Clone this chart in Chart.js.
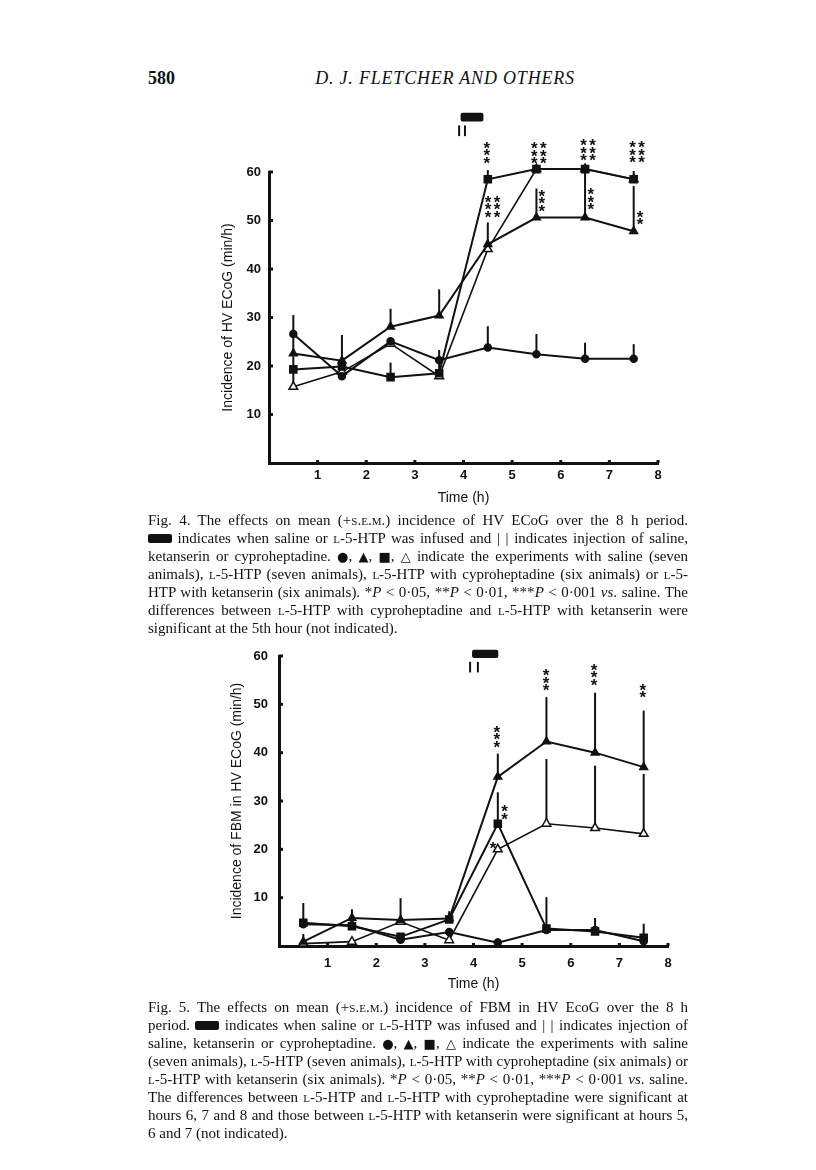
<!DOCTYPE html>
<html>
<head>
<meta charset="utf-8">
<script src="https://cdn.jsdelivr.net/npm/chart.js@4.4.1/dist/chart.umd.min.js"></script>
<style>
  body { margin: 0; background: #fff; width: 816px; height: 1170px; position: relative; overflow: hidden; }
  canvas { position: absolute; }
  .hdr { position: absolute; font-family: "Liberation Serif", serif; color: #111; }
  .cap { position: absolute; left: 148px; width: 540px; font-family: "Liberation Serif", serif; font-size: 15px; line-height: 18px; color: #111; }
  .ln { white-space: nowrap; height: 18px; }
  .ln span.t { display: inline-block; }
  .sc { font-variant: small-caps; }
  .blk { display: inline-block; width: 24px; height: 9px; background: #111; border-radius: 2px; vertical-align: 0px; }
  .sym { font-family: "DejaVu Sans", sans-serif; font-size: 13px; }
</style>
</head>
<body>
<div class="hdr" style="left:148px; top:68px; font-size:18px; font-weight:bold;">580</div>
<div class="hdr" style="left:300px; top:68px; width:290px; text-align:center; font-size:18px; font-style:italic; letter-spacing:0.8px;">D. J. FLETCHER AND OTHERS</div>

<canvas id="fig4" width="540" height="420" style="left:150px; top:95px;"></canvas>

<div class="cap" id="cap4" style="top:511px;">
  <div class="ln"><span class="t">Fig. 4. The effects on mean (+<span class="sc">s.e.m.</span>) incidence of HV ECoG over the 8 h period.</span></div>
  <div class="ln"><span class="t"><span class="blk"></span> indicates when saline or <span class="sc">l</span>-5-HTP was infused and | | indicates injection of saline,</span></div>
  <div class="ln"><span class="t">ketanserin or cyproheptadine. <span class="sym">●</span>, <span class="sym">▲</span>, <span class="sym">■</span>, <span class="sym">△</span> indicate the experiments with saline (seven</span></div>
  <div class="ln"><span class="t">animals), <span class="sc">l</span>-5-HTP (seven animals), <span class="sc">l</span>-5-HTP with cyproheptadine (six animals) or <span class="sc">l</span>-5-</span></div>
  <div class="ln"><span class="t">HTP with ketanserin (six animals). *<i>P</i> &lt; 0·05, **<i>P</i> &lt; 0·01, ***<i>P</i> &lt; 0·001 <i>vs</i>. saline. The</span></div>
  <div class="ln"><span class="t">differences between <span class="sc">l</span>-5-HTP with cyproheptadine and <span class="sc">l</span>-5-HTP with ketanserin were</span></div>
  <div class="ln last"><span class="t">significant at the 5th hour (not indicated).</span></div>
</div>

<canvas id="fig5" width="540" height="400" style="left:150px; top:600px;"></canvas>

<div class="cap" id="cap5" style="top:998px;">
  <div class="ln"><span class="t">Fig. 5. The effects on mean (+<span class="sc">s.e.m.</span>) incidence of FBM in HV EcoG over the 8 h</span></div>
  <div class="ln"><span class="t">period. <span class="blk"></span> indicates when saline or <span class="sc">l</span>-5-HTP was infused and | | indicates injection of</span></div>
  <div class="ln"><span class="t">saline, ketanserin or cyproheptadine. <span class="sym">●</span>, <span class="sym">▲</span>, <span class="sym">■</span>, <span class="sym">△</span> indicate the experiments with saline</span></div>
  <div class="ln"><span class="t">(seven animals), <span class="sc">l</span>-5-HTP (seven animals), <span class="sc">l</span>-5-HTP with cyproheptadine (six animals) or</span></div>
  <div class="ln"><span class="t"><span class="sc">l</span>-5-HTP with ketanserin (six animals). *<i>P</i> &lt; 0·05, **<i>P</i> &lt; 0·01, ***<i>P</i> &lt; 0·001 <i>vs</i>. saline.</span></div>
  <div class="ln"><span class="t">The differences between <span class="sc">l</span>-5-HTP and <span class="sc">l</span>-5-HTP with cyproheptadine were significant at</span></div>
  <div class="ln"><span class="t">hours 6, 7 and 8 and those between <span class="sc">l</span>-5-HTP with ketanserin were significant at hours 5,</span></div>
  <div class="ln last"><span class="t">6 and 7 (not indicated).</span></div>
</div>

<script>
// time points (h) and axis ticks
const hours = [0.5, 1.5, 2.5, 3.5, 4.5, 5.5, 6.5, 7.5];
const xTicks = [1, 2, 3, 4, 5, 6, 7, 8];
const yTicks = [10, 20, 30, 40, 50, 60];

// Fig 4 - HV ECoG (min/h)
const hvSaline = [26.6, 17.9, 25.1, 21.2, 23.8, 22.4, 21.5, 21.5];
const hvHtp    = [22.6, 21.1, 28.1, 30.4, 45.1, 50.6, 50.6, 47.8];
const hvCypro  = [19.3, 19.9, 17.7, 18.5, 58.5, 60.6, 60.6, 58.5];
const hvKet    = [15.7, 18.8, 24.6, 17.9, 44.1, 60.6, 60.6, 58.5];
// upper end of the +SEM bars (null = no bar drawn)
const hvSalineSem = [30.5, null, null, 23.3, 28.2, 26.6, 24.8, 24.5];
const hvHtpSem    = [26.0, 26.4, 31.8, 35.8, 49.6, 56.6, 60.6, 57.1];
const hvCyproSem  = [null, null, 20.7, 21.0, 60.4, null, null, 60.2];
const hvKetSem    = [22.0, null, null, null, null, null, null, null];

// Fig 5 - FBM in HV ECoG (min/h)
const fbmSaline = [4.5, 4.3, 1.3, 2.9, 0.7, 3.3, 3.3, 1.0];
const fbmHtp    = [0.9, 5.8, 5.4, 5.7, 35.0, 42.3, 40.0, 37.0];
const fbmCypro  = [4.8, 4.1, 1.9, 5.5, 25.3, 3.6, 3.0, 1.7];
const fbmKet    = [0.5, 0.9, 5.0, 1.2, 20.0, 25.3, 24.4, 23.2];
const fbmSalineSem = [null, null, null, 3.6, 1.6, null, null, null];
const fbmHtpSem    = [2.5, 7.6, 9.9, 7.2, 39.8, 51.5, 52.4, 48.7];
const fbmCyproSem  = [8.9, null, null, null, 31.8, 10.1, 5.8, 4.6];
const fbmKetSem    = [null, null, null, null, null, 38.7, 37.3, 35.6];

// significance asterisks: [x, y, rows, cols]
const hvStars = [[4.48, 64.0, 3, 1], [5.55, 63.9, 3, 2], [6.56, 64.5, 3, 2], [7.57, 64.1, 3, 2],
                 [4.6, 52.8, 3, 2], [5.61, 54.1, 3, 1], [6.62, 54.4, 3, 1], [7.63, 50.5, 2, 1]];
const fbmStars = [[4.48, 43.3, 3, 1], [5.49, 55.0, 3, 1], [6.48, 56.1, 3, 1], [7.48, 52.8, 2, 1],
                  [4.64, 27.6, 2, 1], [4.40, 20.7, 1, 1]];

// infusion bar [x0, x1, yTop, yBottom] and injection marks [x, x, yTop, yBottom]
const hvInfusion = [3.94, 4.41, 72.2, 70.4];
const hvInjection = [3.91, 4.03, 69.6, 67.4];
const fbmInfusion = [3.97, 4.51, 61.3, 59.6];
const fbmInjection = [3.93, 4.09, 58.8, 56.6];

const pts = vals => vals.map((v, i) => ({x: hours[i], y: v}));

const marks = {
  id: 'marks',
  beforeDatasetsDraw(chart, args, opts) {
    const {ctx, scales: {x, y}} = chart;
    ctx.save();
    ctx.strokeStyle = '#111';
    ctx.lineWidth = 2;
    opts.errors.forEach(([means, tops]) => {
      tops.forEach((top, i) => {
        if (top == null) return;
        const px = x.getPixelForValue(hours[i]);
        ctx.beginPath();
        ctx.moveTo(px, y.getPixelForValue(means[i]));
        ctx.lineTo(px, y.getPixelForValue(top));
        ctx.stroke();
      });
    });
    // small inward tick marks
    ctx.lineWidth = 3;
    const x0 = x.getPixelForValue(0), y0 = y.getPixelForValue(0);
    yTicks.forEach(v => {
      const py = y.getPixelForValue(v);
      ctx.beginPath(); ctx.moveTo(x0, py); ctx.lineTo(x0 + 4, py); ctx.stroke();
    });
    xTicks.forEach(v => {
      const px = x.getPixelForValue(v);
      ctx.beginPath(); ctx.moveTo(px, y0); ctx.lineTo(px, y0 - 3); ctx.stroke();
    });
    ctx.restore();
  },
  afterDatasetsDraw(chart, args, opts) {
    const {ctx, scales: {x, y}} = chart;
    ctx.save();
    ctx.fillStyle = '#111';
    ctx.strokeStyle = '#111';
    // infusion bar
    const [a0, a1, t, b] = opts.infusion;
    const rx = x.getPixelForValue(a0), rw = x.getPixelForValue(a1) - rx;
    const ry = y.getPixelForValue(t), rh = y.getPixelForValue(b) - ry;
    ctx.beginPath();
    ctx.roundRect(rx, ry, rw, rh, 2);
    ctx.fill();
    // injection marks
    ctx.lineWidth = 2;
    const [i0, i1, it, ib] = opts.injection;
    [i0, i1].forEach(v => {
      const px = x.getPixelForValue(v);
      ctx.beginPath();
      ctx.moveTo(px, y.getPixelForValue(it));
      ctx.lineTo(px, y.getPixelForValue(ib));
      ctx.stroke();
    });
    // asterisks
    ctx.font = 'bold 17px "Liberation Sans", sans-serif';
    ctx.textAlign = 'center';
    ctx.textBaseline = 'alphabetic';
    const m = ctx.measureText('*');
    const off = (m.actualBoundingBoxAscent - m.actualBoundingBoxDescent) / 2;
    opts.stars.forEach(([sx, sy, rows, cols]) => {
      const cx = x.getPixelForValue(sx), cy = y.getPixelForValue(sy);
      for (let r = 0; r < rows; r++) {
        for (let c = 0; c < cols; c++) {
          const px = cx + (c - (cols - 1) / 2) * 9;
          const py = cy + (r - (rows - 1) / 2) * 7.5;
          ctx.fillText('*', px, py + off);
        }
      }
    });
    ctx.restore();
  }
};

function series(vals, style, radius, fill, width) {
  return {
    data: pts(vals),
    showLine: true,
    borderColor: '#111',
    borderWidth: width,
    pointStyle: style,
    pointRadius: radius,
    pointBackgroundColor: fill,
    pointBorderColor: '#111',
    pointBorderWidth: 1.5,
    tension: 0,
    clip: false
  };
}

function makeChart(id, sets, yTitle, lay, annots) {
  const ctx = document.getElementById(id).getContext('2d');
  return new Chart(ctx, {
    type: 'scatter',
    data: {
      datasets: [
        series(sets[0], 'circle', 3.5, '#111', 2),
        series(sets[1], 'triangle', 4.5, '#111', 2),
        series(sets[2], 'rect', 5, '#111', 2),
        series(sets[3], 'triangle', 5, '#fff', 1.6)
      ]
    },
    options: {
      responsive: false,
      animation: false,
      devicePixelRatio: 1,
      layout: {padding: {left: 0, top: lay.top, right: lay.right, bottom: 0}},
      plugins: {
        legend: {display: false},
        tooltip: {enabled: false},
        marks: annots
      },
      scales: {
        x: {
          type: 'linear', min: 0, max: 8,
          afterBuildTicks: s => { s.ticks = xTicks.map(v => ({value: v})); },
          afterFit: s => { s.height = lay.xh; },
          grid: {drawOnChartArea: false, drawTicks: false},
          border: {display: true, color: '#111', width: 3},
          ticks: {color: '#111', padding: lay.xpad, font: {family: '"Liberation Sans", Arial, sans-serif', size: 13, weight: 'bold'}},
          title: {display: true, text: 'Time (h)', color: '#111', padding: {top: 0, bottom: lay.xtitle},
                  font: {family: '"Liberation Sans", Arial, sans-serif', size: 14}}
        },
        y: {
          type: 'linear', min: 0, max: 60,
          afterBuildTicks: s => { s.ticks = yTicks.map(v => ({value: v})); },
          afterFit: s => { s.width = lay.yw; },
          grid: {drawOnChartArea: false, drawTicks: false},
          border: {display: true, color: '#111', width: 3},
          ticks: {color: '#111', padding: lay.ypad, font: {family: '"Liberation Sans", Arial, sans-serif', size: 13, weight: 'bold'}},
          title: {display: true, text: yTitle, color: '#111', padding: {top: lay.ytitle, bottom: 0},
                  font: {family: '"Liberation Sans", Arial, sans-serif', size: 14}}
        }
      }
    },
    plugins: [marks]
  });
}

makeChart('fig4', [hvSaline, hvHtp, hvCypro, hvKet], 'Incidence of HV ECoG (min/h)',
  {top: 77, right: 32, xh: 52, yw: 119, xpad: 5, ypad: 8, xtitle: 8, ytitle: 70},
  {errors: [[hvSaline, hvSalineSem], [hvHtp, hvHtpSem], [hvCypro, hvCyproSem], [hvKet, hvKetSem]],
   stars: hvStars, infusion: hvInfusion, injection: hvInjection});

makeChart('fig5', [fbmSaline, fbmHtp, fbmCypro, fbmKet], 'Incidence of FBM in HV ECoG (min/h)',
  {top: 56, right: 22, xh: 54, yw: 129, xpad: 10, ypad: 11, xtitle: 7, ytitle: 79},
  {errors: [[fbmSaline, fbmSalineSem], [fbmHtp, fbmHtpSem], [fbmCypro, fbmCyproSem], [fbmKet, fbmKetSem]],
   stars: fbmStars, infusion: fbmInfusion, injection: fbmInjection});

// justify caption lines to the 540px text block
document.querySelectorAll('.ln:not(.last) span.t').forEach(s => {
  const w = s.getBoundingClientRect().width;
  const n = (s.textContent.match(/ /g) || []).length;
  if (n) s.style.wordSpacing = ((540 - w) / n) + 'px';
});
</script>
</body>
</html>
